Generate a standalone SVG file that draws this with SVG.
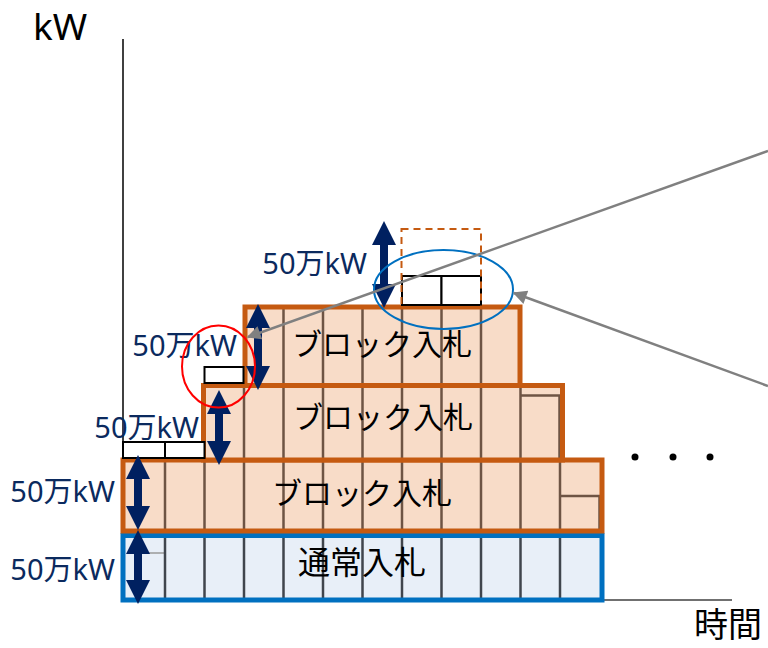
<svg xmlns="http://www.w3.org/2000/svg" width="768" height="648" viewBox="0 0 768 648">
<defs>
<marker id="gah" viewBox="0 0 10 10" refX="9" refY="5" markerWidth="16" markerHeight="14" markerUnits="userSpaceOnUse" orient="auto">
<path d="M0,0 L10,5 L0,10 Z" fill="#808080"/>
</marker>
</defs>
<style>
.ofill{fill:#F8DCC8;stroke:none}
.oborder{fill:none;stroke:#C55A11;stroke-width:5}
.bfill{fill:#E8EFF8;stroke:none}
.bborder{fill:none;stroke:#0070C0;stroke-width:5}
.ocol{stroke:#6E5444;stroke-width:2.5}
.bcol{stroke:#40454D;stroke-width:2.5}
.wbox{fill:#FFFFFF;stroke:#000000;stroke-width:2}
.arr{fill:#002060}
.lbl{font-family:"Noto Sans","Noto Sans CJK JP",sans-serif;font-size:29px;fill:#0B2A5E;text-anchor:end}
.jp{font-family:"Noto Sans CJK JP",sans-serif;fill:#000000;text-anchor:middle}
.ax{font-family:"Noto Sans","Noto Sans CJK JP",sans-serif;fill:#000000}
.conn{stroke:#808080;stroke-width:2.5;fill:none}
</style>

<g id="axes">
<line x1="123" y1="39" x2="123" y2="601" stroke="#000" stroke-width="1.5"/>
<line x1="123" y1="600" x2="732" y2="600" stroke="#404040" stroke-width="1.5"/>
<text class="ax" x="33" y="40" font-size="37">kW</text>
<text class="ax" x="694" y="637" font-size="34">時間</text>
</g>

<g id="normal-bid">
<rect class="bfill" x="123" y="535.5" width="479" height="64.5"/>
<line x1="127" y1="553" x2="164" y2="553" stroke="#9A9A9A" stroke-width="1.5"/>
<g class="bcol">
<line x1="165" y1="536" x2="165" y2="600"/><line x1="204.5" y1="536" x2="204.5" y2="600"/>
<line x1="244" y1="536" x2="244" y2="600"/><line x1="283.5" y1="536" x2="283.5" y2="600"/>
<line x1="323" y1="536" x2="323" y2="600"/><line x1="362.5" y1="536" x2="362.5" y2="600"/>
<line x1="402" y1="536" x2="402" y2="600"/><line x1="441.5" y1="536" x2="441.5" y2="600"/>
<line x1="481" y1="536" x2="481" y2="600"/><line x1="520.5" y1="536" x2="520.5" y2="600"/>
<line x1="560" y1="536" x2="560" y2="600"/>
</g>
<rect class="bborder" x="123" y="535.5" width="479" height="64.5"/>
<text class="jp" x="362" y="574" font-size="32">通常入札</text>
</g>

<g id="block-bid-1">
<rect class="ofill" x="123" y="460" width="479" height="71"/>
<g class="ocol">
<line x1="165" y1="460" x2="165" y2="531"/><line x1="204.5" y1="460" x2="204.5" y2="531"/>
<line x1="244" y1="460" x2="244" y2="531"/><line x1="283.5" y1="460" x2="283.5" y2="531"/>
<line x1="323" y1="460" x2="323" y2="531"/><line x1="362.5" y1="460" x2="362.5" y2="531"/>
<line x1="402" y1="460" x2="402" y2="531"/><line x1="441.5" y1="460" x2="441.5" y2="531"/>
<line x1="481" y1="460" x2="481" y2="531"/><line x1="520.5" y1="460" x2="520.5" y2="531"/>
<line x1="560" y1="460" x2="560" y2="531"/>
<polyline fill="none" points="560,496 599.5,496 599.5,531"/>
</g>
<rect class="oborder" x="123" y="460" width="479" height="71"/>
<text class="jp" x="362" y="504" font-size="30">ブロック入札</text>
</g>

<g id="block-bid-2">
<rect class="ofill" x="203.5" y="385.5" width="359" height="74.5"/>
<g class="ocol">
<line x1="244" y1="386" x2="244" y2="460"/><line x1="283.5" y1="386" x2="283.5" y2="460"/>
<line x1="323" y1="386" x2="323" y2="460"/><line x1="362.5" y1="386" x2="362.5" y2="460"/>
<line x1="402" y1="386" x2="402" y2="460"/><line x1="441.5" y1="386" x2="441.5" y2="460"/>
<line x1="481" y1="386" x2="481" y2="460"/><line x1="520.5" y1="386" x2="520.5" y2="460"/>
<polyline fill="none" points="520.5,395.5 559.5,395.5 559.5,460"/>
</g>
<rect class="oborder" x="203.5" y="385.5" width="359" height="74.5"/>
<text class="jp" x="383" y="428" font-size="30">ブロック入札</text>
</g>

<g id="block-bid-3">
<rect class="ofill" x="245" y="307" width="275" height="78.5"/>
<g class="ocol">
<line x1="283.5" y1="307" x2="283.5" y2="385"/><line x1="323" y1="307" x2="323" y2="385"/>
<line x1="362.5" y1="307" x2="362.5" y2="385"/><line x1="402" y1="307" x2="402" y2="385"/>
<line x1="441.5" y1="307" x2="441.5" y2="385"/><line x1="481" y1="307" x2="481" y2="385"/>
</g>
<rect class="oborder" x="245" y="307" width="275" height="78.5"/>
<text class="jp" x="382" y="355" font-size="30">ブロック入札</text>
</g>

<g id="small-units">
<rect class="wbox" x="123" y="442" width="42" height="16"/>
<rect class="wbox" x="165" y="442" width="39.5" height="16"/>
<rect class="wbox" x="204.5" y="367" width="39" height="16"/>
<rect class="wbox" x="402" y="276" width="39.5" height="29"/>
<rect class="wbox" x="441.5" y="276" width="39.5" height="29"/>
<rect x="401.5" y="229" width="79.5" height="78" fill="none" stroke="#C55A11" stroke-width="2" stroke-dasharray="7,5"/>
</g>

<g id="arrows">
<path class="arr" d="M138,455 L150,479 L142,479 L142,506 L150,506 L138,530 L126,506 L134,506 L134,479 L126,479 Z"/>
<path class="arr" d="M138,530 L150,554 L142,554 L142,580 L150,580 L138,604 L126,580 L134,580 L134,554 L126,554 Z"/>
<path class="arr" d="M219,390 L231,414 L223,414 L223,441 L231,441 L219,465 L207,441 L215,441 L215,414 L207,414 Z"/>
<path class="arr" d="M258,304 L270,328 L262,328 L262,366 L270,366 L258,390 L246,366 L254,366 L254,328 L246,328 Z"/>
<path class="arr" d="M384,221 L396,245 L388,245 L388,284 L396,284 L384,308 L372,284 L380,284 L380,245 L372,245 Z"/>
</g>

<g id="labels">
<text class="lbl" x="367" y="274">50万kW</text>
<text class="lbl" x="237" y="356">50万kW</text>
<text class="lbl" x="199" y="438">50万kW</text>
<text class="lbl" x="115" y="502">50万kW</text>
<text class="lbl" x="115" y="580">50万kW</text>
</g>

<g id="highlights">
<ellipse cx="218.5" cy="366.5" rx="36.5" ry="41" fill="none" stroke="#FF0000" stroke-width="2"/>
<ellipse cx="443.5" cy="289.5" rx="69.5" ry="39.5" fill="none" stroke="#0070C0" stroke-width="2"/>
</g>

<g id="dots">
<circle cx="635" cy="457" r="3.5" fill="#000"/>
<circle cx="673" cy="457" r="3.5" fill="#000"/>
<circle cx="710" cy="457" r="3.5" fill="#000"/>
</g>

<g id="connectors">
<line class="conn" x1="768" y1="151" x2="248" y2="337" marker-end="url(#gah)"/>
<line class="conn" x1="768" y1="386" x2="514" y2="293" marker-end="url(#gah)"/>
</g>
</svg>
